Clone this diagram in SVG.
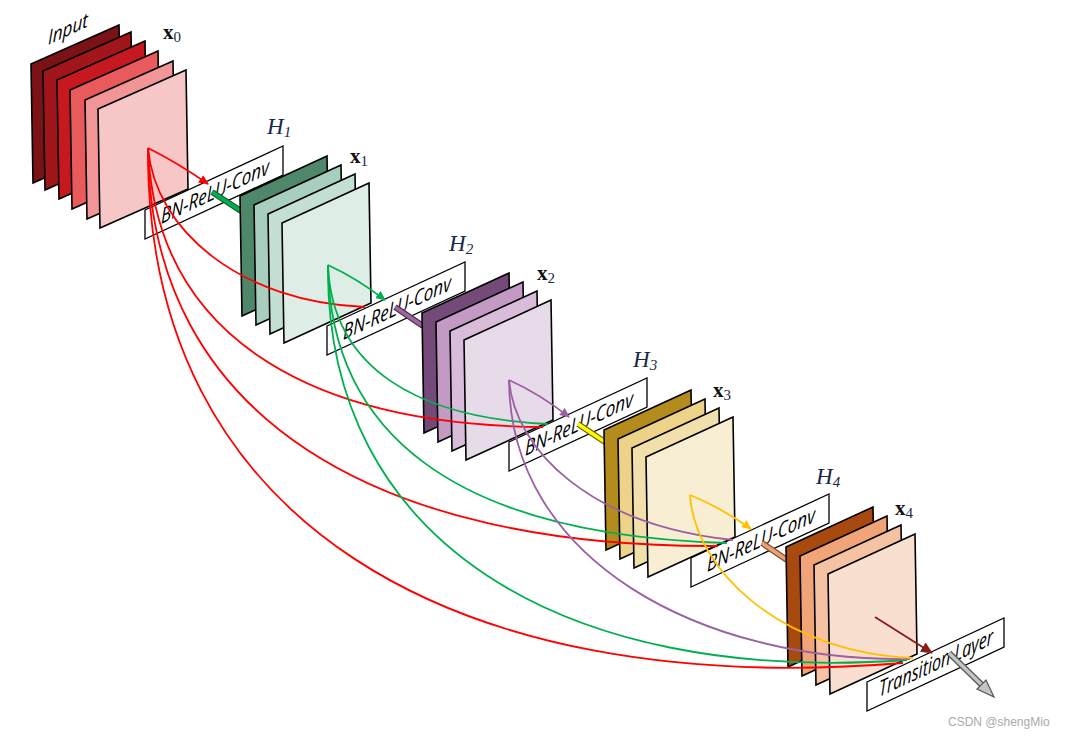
<svg xmlns="http://www.w3.org/2000/svg" width="1073" height="737" viewBox="0 0 1073 737">
<defs>
<style>
.pl{stroke:#000;stroke-width:1.6;stroke-linejoin:miter}
.box{fill:#fff;stroke:#000;stroke-width:1.3}
.bt{font-family:"Open Sans","Liberation Sans",sans-serif;font-style:italic;font-size:21px;fill:#000}
.h{font-family:"Liberation Serif",serif;font-style:italic;font-size:23px;fill:#1a2848}
.hs{font-size:15px}
.x{font-family:"Liberation Serif",serif;font-weight:bold;font-size:21px;fill:#111}
.xs{font-size:15px;font-weight:normal;fill:#1a2848}
.c{fill:none;stroke-width:1.8}
.r{stroke:#ff0000}.g{stroke:#00b050}.p{stroke:#9b5fa2}.y{stroke:#ffc000}
.to{stroke-width:6;stroke-linecap:butt}
.ti{stroke-width:3.6;stroke-linecap:butt}
</style>
<marker id="mr" markerUnits="userSpaceOnUse" markerWidth="11" markerHeight="9" refX="9" refY="4.5" orient="auto"><path d="M0,0 L10,4.5 L0,9 z" fill="#ff0000"/></marker>
<marker id="mg" markerUnits="userSpaceOnUse" markerWidth="11" markerHeight="9" refX="9" refY="4.5" orient="auto"><path d="M0,0 L10,4.5 L0,9 z" fill="#00b050"/></marker>
<marker id="mp" markerUnits="userSpaceOnUse" markerWidth="11" markerHeight="9" refX="9" refY="4.5" orient="auto"><path d="M0,0 L10,4.5 L0,9 z" fill="#9b5fa2"/></marker>
<marker id="my" markerUnits="userSpaceOnUse" markerWidth="11" markerHeight="9" refX="9" refY="4.5" orient="auto"><path d="M0,0 L10,4.5 L0,9 z" fill="#ffc000"/></marker>
<marker id="md" markerUnits="userSpaceOnUse" markerWidth="13" markerHeight="11" refX="11" refY="5.5" orient="auto"><path d="M0,0 L12,5.5 L0,11 z" fill="#8b1a1a"/></marker>
</defs>
<rect width="1073" height="737" fill="#fff"/>

<g id="H1">
<polygon class="box" points="145,210 283,146 283,175 145,239"/>
<text class="bt" transform="translate(161,224) skewY(-25)" textLength="108" lengthAdjust="spacingAndGlyphs">BN-ReLU-Conv</text>
<text class="h" x="267" y="134">H<tspan class="hs" dy="3">1</tspan></text>
</g>
<g id="H2">
<polygon class="box" points="327,326 465,262 465,291 327,355"/>
<text class="bt" transform="translate(343,340) skewY(-25)" textLength="108" lengthAdjust="spacingAndGlyphs">BN-ReLU-Conv</text>
<text class="h" x="449" y="251">H<tspan class="hs" dy="3">2</tspan></text>
</g>
<g id="H3">
<polygon class="box" points="509,442 647,378 647,407 509,471"/>
<text class="bt" transform="translate(525,456) skewY(-25)" textLength="108" lengthAdjust="spacingAndGlyphs">BN-ReLU-Conv</text>
<text class="h" x="633" y="367">H<tspan class="hs" dy="3">3</tspan></text>
</g>
<g id="H4">
<polygon class="box" points="691,558 829,494 829,523 691,587"/>
<text class="bt" transform="translate(707,572) skewY(-25)" textLength="108" lengthAdjust="spacingAndGlyphs">BN-ReLU-Conv</text>
<text class="h" x="816" y="484">H<tspan class="hs" dy="3">4</tspan></text>
</g>
<g id="transition">
<polygon class="box" points="867,682 1004,618 1004,647 867,711"/>
<text class="bt" style="font-size:22px" transform="translate(879,697) skewY(-25)" textLength="114" lengthAdjust="spacingAndGlyphs">Transition Layer</text>
</g>

<g id="tubes">
<line class="to" x1="212" y1="192" x2="241" y2="211" stroke="#1b5e34"/>
<line class="ti" x1="212" y1="192" x2="241" y2="211" stroke="#00b050"/>
<line class="to" x1="395" y1="307" x2="423" y2="326" stroke="#4e2a52"/>
<line class="ti" x1="395" y1="307" x2="423" y2="326" stroke="#9a6a9e"/>
<line class="to" x1="578" y1="424" x2="605" y2="442" stroke="#6d6a10"/>
<line class="ti" x1="578" y1="424" x2="605" y2="442" stroke="#ffff00"/>
<line class="to" x1="762" y1="543" x2="787" y2="560" stroke="#8a4a24"/>
<line class="ti" x1="762" y1="543" x2="787" y2="560" stroke="#e8a27a"/>
</g>

<g id="x0">
<polygon class="pl" fill="#7b1216" points="31,64 119,25 121,144 33,183"/>
<polygon class="pl" fill="#a0161a" points="43,71 131,32 133,151 45,190"/>
<polygon class="pl" fill="#c5191f" points="57,80 145,41 147,160 59,199"/>
<polygon class="pl" fill="#e85a5c" points="70,90 158,51 160,170 72,209"/>
<polygon class="pl" fill="#f29596" points="85,100 173,61 175,180 87,219"/>
<polygon class="pl" fill="#f7c6c7" points="98,109 186,70 188,189 100,228"/>
<text class="bt" style="font-size:20px" transform="translate(48,45) skewY(-25)" textLength="40" lengthAdjust="spacingAndGlyphs">Input</text>
<text class="x" x="163" y="39">x<tspan class="xs" dy="3">0</tspan></text>
</g>
<g id="x1">
<polygon class="pl" fill="#4f876b" points="240,196 327,156 329,276 242,316"/>
<polygon class="pl" fill="#a8cfbe" points="254,205 341,165 343,285 256,325"/>
<polygon class="pl" fill="#c3e0d3" points="268,214 355,174 357,294 270,334"/>
<polygon class="pl" fill="#deede6" points="282,223 369,183 371,303 284,343"/>
<text class="x" x="350" y="163">x<tspan class="xs" dy="3">1</tspan></text>
</g>
<g id="x2">
<polygon class="pl" fill="#744a78" points="422,313 509,273 511,393 424,433"/>
<polygon class="pl" fill="#c39ac4" points="436,322 523,282 525,402 438,442"/>
<polygon class="pl" fill="#d8bcd9" points="450,331 537,291 539,411 452,451"/>
<polygon class="pl" fill="#e8dbe9" points="464,340 551,300 553,420 466,460"/>
<text class="x" x="537" y="280">x<tspan class="xs" dy="3">2</tspan></text>
</g>
<g id="x3">
<polygon class="pl" fill="#b48c1e" points="604,430 691,390 693,510 606,550"/>
<polygon class="pl" fill="#edd38a" points="618,439 705,399 707,519 620,559"/>
<polygon class="pl" fill="#f2e0ac" points="632,448 719,408 721,528 634,568"/>
<polygon class="pl" fill="#f8eed3" points="646,457 733,417 735,537 648,577"/>
<text class="x" x="713" y="397">x<tspan class="xs" dy="3">3</tspan></text>
</g>
<g id="x4">
<polygon class="pl" fill="#a84a10" points="786,547 873,507 875,627 788,667"/>
<polygon class="pl" fill="#f0a478" points="800,556 887,516 889,636 802,676"/>
<polygon class="pl" fill="#f5c3a3" points="814,565 901,525 903,645 816,685"/>
<polygon class="pl" fill="#f9dfcf" points="828,574 915,534 917,654 830,694"/>
<text class="x" x="895" y="515">x<tspan class="xs" dy="3">4</tspan></text>
</g>

<g id="connectors">
<path class="c r" d="M148,148 Q178,163 208,184" marker-end="url(#mr)"/>
<path class="c r" d="M148,148 C155,230 240,302 365,307"/>
<path class="c r" d="M148,148 C155,330 300,425 543,427"/>
<path class="c r" d="M148,148 C150,420 380,548 718,546"/>
<path class="c r" d="M148,148 C145,520 450,700 903,663"/>
<path class="c g" d="M328,265 Q358,279 385,300" marker-end="url(#mg)"/>
<path class="c g" d="M328,265 C332,370 420,418 548,424"/>
<path class="c g" d="M328,265 C330,430 450,535 727,543"/>
<path class="c g" d="M328,265 C325,540 560,685 907,660"/>
<path class="c p" d="M509,380 Q540,394 569,417" marker-end="url(#mp)"/>
<path class="c p" d="M509,380 C515,450 590,525 733,540"/>
<path class="c p" d="M509,380 C510,560 700,662 910,659"/>
<path class="c y" d="M690,495 Q722,508 751,529" marker-end="url(#my)"/>
<path class="c y" d="M690,495 C695,570 780,652 913,658"/>
<path class="c" stroke="#8b1a1a" d="M875,617 L932,653" marker-end="url(#md)"/>
<line x1="949" y1="653" x2="984" y2="687" stroke="#555" stroke-width="6"/>
<line x1="949" y1="653" x2="984" y2="687" stroke="#c4c4c4" stroke-width="3.6"/>
<polygon points="994,697 977,689 986,680" fill="#c4c4c4" stroke="#555" stroke-width="1.2"/>
</g>

<text x="948" y="726" font-family="Liberation Sans, sans-serif" font-size="12" fill="#aaaaaa">CSDN @shengMio</text>
</svg>
